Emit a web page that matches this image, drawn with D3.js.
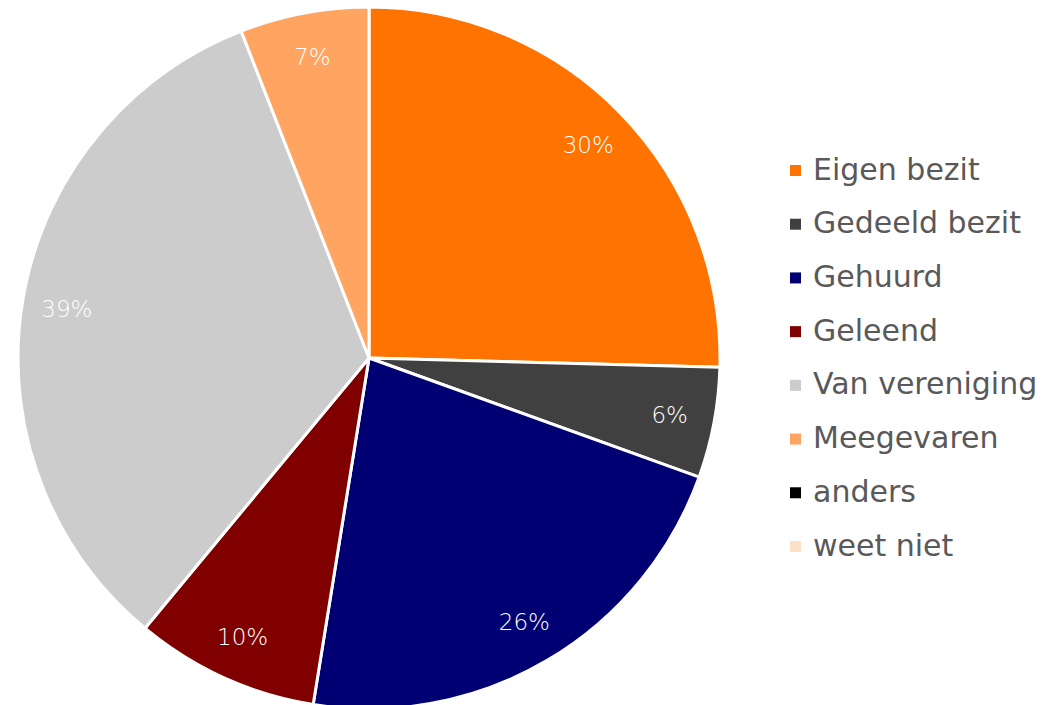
<!DOCTYPE html>
<html>
<head>
<meta charset="utf-8">
<script src="https://cdn.jsdelivr.net/npm/d3@7"></script>
<style>
  body { margin: 0; background: #fff; }
  svg { display: block; }
</style>
</head>
<body>
<div id="chart"></div>
<script>
// categories and values (percent of respondents)
var categories = ['Eigen bezit', 'Gedeeld bezit', 'Gehuurd', 'Geleend', 'Van vereniging', 'Meegevaren', 'anders', 'weet niet'];
var values = [30, 6, 26, 10, 39, 7, 0, 0];
var labels = ['30%', '6%', '26%', '10%', '39%', '7%', '', ''];
var colors = ['#ff7300', '#404040', '#000073', '#800000', '#cccccc', '#ffa561', '#000000', '#ffe0c9'];

var width = 1053, height = 705;
var cx = 369, cy = 358, radius = 351;
var font = "'Century Gothic', 'DejaVu Sans', sans-serif";

var svg = d3.select('#chart')
  .append('svg')
  .attr('width', width)
  .attr('height', height);

var data = categories.map(function(c, i) {
  return { name: c, value: values[i], label: labels[i], color: colors[i] };
});

var pie = d3.pie()
  .sort(null)
  .value(function(d) { return d.value; });

var arc = d3.arc().innerRadius(0).outerRadius(radius);
var labelArc = d3.arc().innerRadius(306).outerRadius(306);

var g = svg.append('g').attr('transform', 'translate(' + cx + ',' + cy + ')');

var arcs = pie(data).filter(function(d) { return d.data.value > 0; });

g.selectAll('path.slice')
  .data(arcs)
  .enter().append('path')
  .attr('class', 'slice')
  .attr('d', arc)
  .attr('fill', function(d) { return d.data.color; })
  .attr('stroke', '#fff')
  .attr('stroke-width', 3)
  .attr('stroke-linejoin', 'round');

g.selectAll('text.lbl')
  .data(arcs)
  .enter().append('text')
  .attr('class', 'lbl')
  .attr('transform', function(d) { return 'translate(' + labelArc.centroid(d) + ')'; })
  .attr('text-anchor', 'middle')
  .attr('dominant-baseline', 'central')
  .style('font-family', font)
  .style('font-size', '23px')
  .style('font-weight', 200)
  .style('fill', '#fff')
  .text(function(d) { return d.data.label; });

// legend
var legendY = d3.scalePoint()
  .domain(categories)
  .range([170, 546]);

var legend = svg.append('g');

var item = legend.selectAll('g.item')
  .data(data)
  .enter().append('g')
  .attr('class', 'item')
  .attr('transform', function(d) { return 'translate(0,' + legendY(d.name) + ')'; });

item.append('rect')
  .attr('x', 790)
  .attr('y', -5)
  .attr('width', 11)
  .attr('height', 11)
  .attr('fill', function(d) { return d.color; });

item.append('text')
  .attr('x', 813)
  .attr('y', -1)
  .attr('dominant-baseline', 'central')
  .style('font-family', font)
  .style('font-size', '30px')
  .style('fill', '#595959')
  .text(function(d) { return d.name; });
</script>
</body>
</html>
